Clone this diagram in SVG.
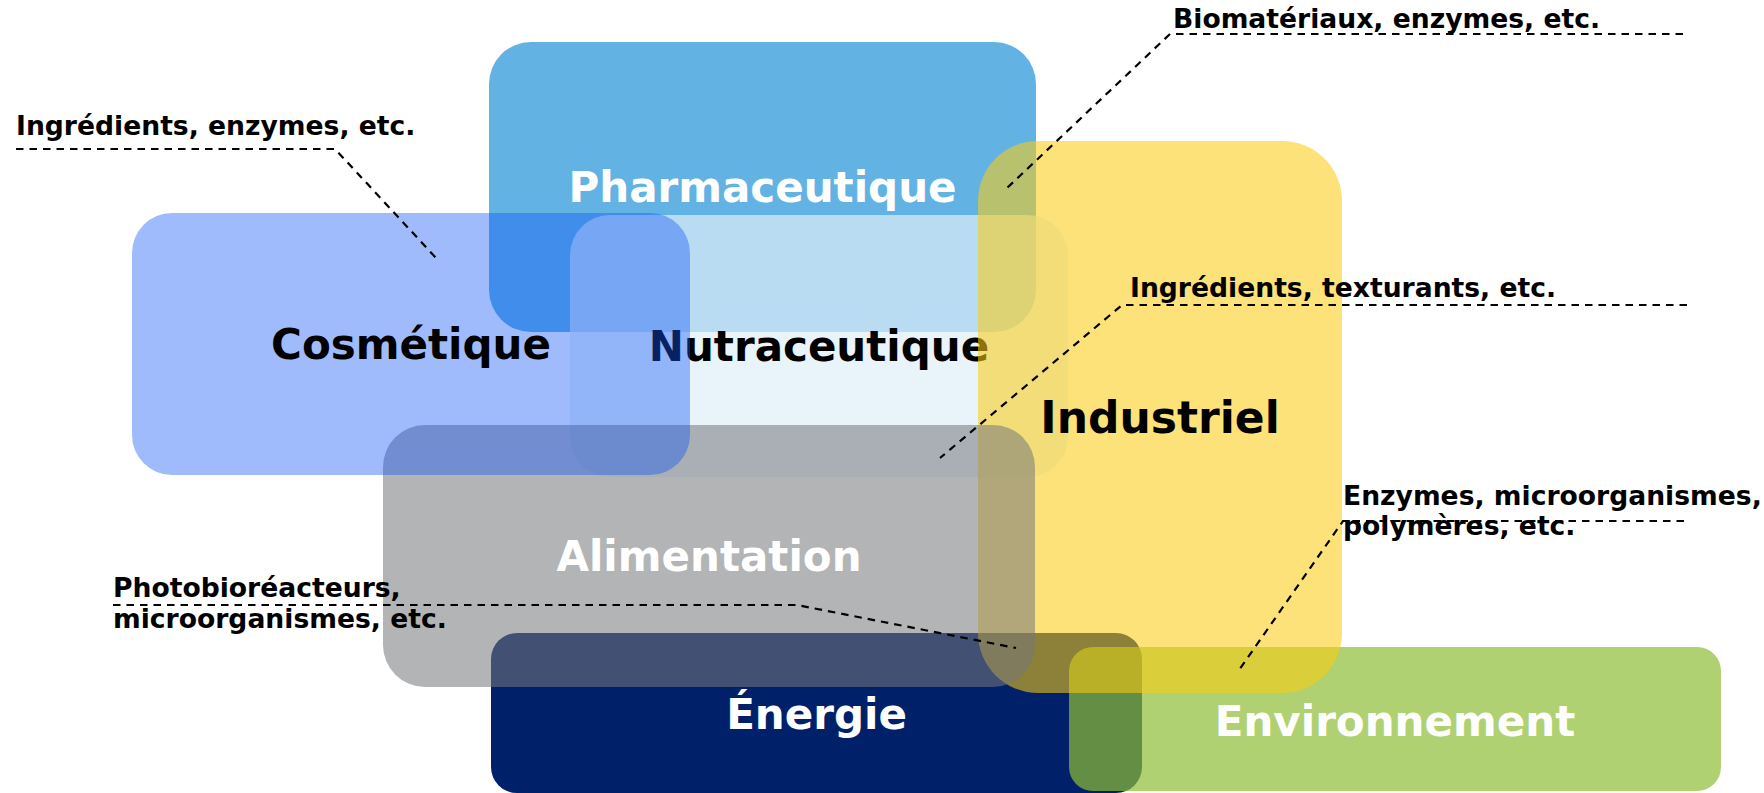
<svg xmlns="http://www.w3.org/2000/svg" width="1764" height="793" viewBox="0 0 1764 793">
  <style>
    text { font-family: "DejaVu Sans", Verdana, sans-serif; font-weight: bold; }
    .title { font-size: 42px; text-anchor: middle; }
    .light { fill: #ffffff; }
    .dark { fill: #000000; }
    .note { font-size: 26.6px; fill: #000000; }
    .leader { fill: none; stroke: #000000; stroke-width: 2.2; stroke-dasharray: 7.5 6; }
  </style>

  <rect width="1764" height="793" fill="#ffffff"/>

  <!-- domain boxes, painted bottom to top so the translucent overlaps mix -->
  <g id="pharmaceutique">
    <rect x="489" y="42" width="547" height="290" rx="42" fill="#62b3e3"/>
    <text class="title light" x="762.5" y="202">Pharmaceutique</text>
  </g>

  <g id="nutraceutique">
    <rect x="570" y="215" width="498" height="262" rx="40" fill="#deeef8" fill-opacity="0.7"/>
    <text class="title dark" x="819" y="361">Nutraceutique</text>
  </g>

  <g id="energie">
    <rect x="491" y="633" width="651" height="160" rx="26" fill="#002169"/>
    <text class="title light" x="816.5" y="729">Énergie</text>
  </g>

  <g id="environnement">
    <rect x="1069" y="647" width="652" height="144" rx="24" fill="#8ebd34" fill-opacity="0.7"/>
    <text class="title light" x="1395" y="736">Environnement</text>
  </g>

  <g id="industriel">
    <rect x="978" y="141" width="364" height="552" rx="60" fill="#fbcb12" fill-opacity="0.56"/>
    <text class="title dark" x="1160" y="433" style="font-size:44px">Industriel</text>
  </g>

  <g id="alimentation">
    <rect x="383" y="425" width="652" height="262" rx="42" fill="#76787b" fill-opacity="0.553"/>
    <text class="title light" x="709" y="571">Alimentation</text>
  </g>

  <g id="cosmetique">
    <rect x="132" y="213" width="558" height="262" rx="40" fill="#1155f7" fill-opacity="0.4"/>
    <text class="title dark" x="411" y="359">Cosmétique</text>
  </g>

  <!-- dashed leader lines from each note into its box -->
  <g id="connectors">
    <polyline class="leader" points="16,149 335,149 437,259"/>
    <polyline class="leader" points="1683,34 1170,34 1007,188"/>
    <polyline class="leader" points="1687,305 1122,305 940,458"/>
    <polyline class="leader" points="113,605 797,605 1016,648"/>
    <polyline class="leader" points="1684,521 1343,521 1237,673"/>
  </g>

  <!-- application notes -->
  <g id="note-cosmetique">
    <text class="note" x="16" y="135">Ingrédients, enzymes, etc.</text>
  </g>
  <g id="note-pharmaceutique">
    <text class="note" x="1173" y="28">Biomatériaux, enzymes, etc.</text>
  </g>
  <g id="note-nutraceutique">
    <text class="note" x="1130" y="297">Ingrédients, texturants, etc.</text>
  </g>
  <g id="note-energie">
    <text class="note" x="113" y="597">Photobioréacteurs,</text>
    <text class="note" x="113" y="628">microorganismes, etc.</text>
  </g>
  <g id="note-environnement">
    <text class="note" x="1343" y="505">Enzymes, microorganismes,</text>
    <text class="note" x="1343" y="535">polymères, etc.</text>
  </g>
</svg>
